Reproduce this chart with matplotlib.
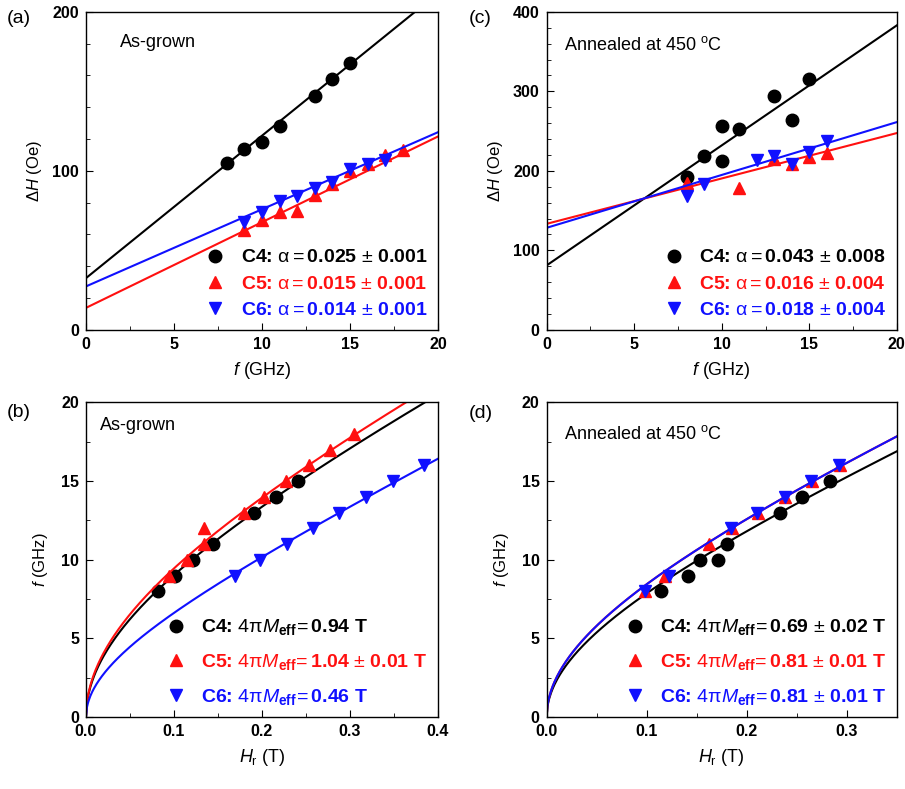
import numpy as np
import matplotlib
matplotlib.use("Agg")
import matplotlib.pyplot as plt
from matplotlib.ticker import MultipleLocator

plt.rcParams['font.family'] = ['Liberation Sans', 'DejaVu Sans']
plt.rcParams['mathtext.fontset'] = 'custom'
plt.rcParams['mathtext.rm'] = 'Liberation Sans'
plt.rcParams['mathtext.it'] = 'Liberation Sans:italic'
plt.rcParams['mathtext.bf'] = 'Liberation Sans:bold'

# ---- (a) as-grown linewidth vs frequency
a_c4_f = [8, 9, 10, 11, 13, 14, 15]
a_c4_dh = [105, 114, 118, 128, 147, 158, 168]
a_c5_f = [9, 10, 11, 12, 13, 14, 15, 16, 17, 18]
a_c5_dh = [63, 69, 74, 75, 85, 92, 100, 104, 110, 113]
a_c6_f = [9, 10, 11, 12, 13, 14, 15, 16, 17]
a_c6_dh = [68, 74, 81, 84, 89, 93, 101, 104, 107]
a_fit = {'C4': (32.5, 8.96), 'C5': (13.8, 5.39), 'C6': (27.3, 4.85)}  # intercept, slope
a_alpha = ['0.025', '0.015', '0.014']
a_err = ['0.001', '0.001', '0.001']

# ---- (c) annealed linewidth vs frequency
c_c4_f = [8, 9, 10, 10, 11, 13, 14, 15]
c_c4_dh = [192, 219, 257, 212, 253, 294, 264, 315]
c_c5_f = [8, 11, 13, 14, 15, 16]
c_c5_dh = [185, 178, 215, 208, 218, 222]
c_c6_f = [8, 9, 12, 13, 14, 15, 16]
c_c6_dh = [168, 183, 213, 219, 209, 224, 237]
c_fit = {'C4': (81, 15.1), 'C5': (133.3, 5.71), 'C6': (128.3, 6.65)}
c_alpha = ['0.043', '0.016', '0.018']
c_err = ['0.008', '0.004', '0.004']

# ---- (b) as-grown f vs Hr
b_c4_h = [0.082, 0.101, 0.122, 0.144, 0.191, 0.216, 0.241]
b_c4_f = [8, 9, 10, 11, 13, 14, 15]
b_c5_h = [0.094, 0.115, 0.134, 0.134, 0.179, 0.202, 0.227, 0.253, 0.277, 0.305]
b_c5_f = [9, 10, 11, 12, 13, 14, 15, 16, 17, 18]
b_c6_h = [0.169, 0.198, 0.228, 0.258, 0.287, 0.318, 0.349, 0.384]
b_c6_f = [9, 10, 11, 12, 13, 14, 15, 16]
b_meff = [0.94, 1.04, 0.46]
b_meff_txt = ['0.94 T', '1.04 $\\pm$ 0.01 T', '0.46 T']

# ---- (d) annealed f vs Hr
d_c4_h = [0.114, 0.141, 0.153, 0.171, 0.180, 0.233, 0.255, 0.283]
d_c4_f = [8, 9, 10, 10, 11, 13, 14, 15]
d_c5_h = [0.098, 0.118, 0.162, 0.185, 0.211, 0.238, 0.265, 0.293]
d_c5_f = [8, 9, 11, 12, 13, 14, 15, 16]
d_c6_h = [0.098, 0.122, 0.184, 0.210, 0.238, 0.264, 0.292]
d_c6_f = [8, 9, 12, 13, 14, 15, 16]
d_meff = [0.69, 0.81, 0.81]
d_meff_txt = ['0.69 $\\pm$ 0.02 T', '0.81 $\\pm$ 0.01 T', '0.81 $\\pm$ 0.01 T']

gamma = 28.0  # GHz/T
names = ['C4', 'C5', 'C6']
colors = ['black', '#ff1010', '#1010ff']
markers = ['o', '^', 'v']

fig = plt.figure(figsize=(9.05, 7.89), dpi=100)
ax_a = fig.add_axes([0.095, 0.582, 0.389, 0.403])
ax_c = fig.add_axes([0.604, 0.582, 0.387, 0.403])
ax_b = fig.add_axes([0.095, 0.091, 0.389, 0.399])
ax_d = fig.add_axes([0.604, 0.091, 0.387, 0.399])


def style(ax):
    ax.tick_params(which='both', direction='in', top=False, right=False)
    ax.tick_params(which='major', length=5, labelsize=11.5, pad=5)
    ax.tick_params(which='minor', length=3)
    for lab in ax.get_xticklabels() + ax.get_yticklabels():
        lab.set_fontweight('bold')
    for s in ax.spines.values():
        s.set_linewidth(1.0)


def alpha_label(n, a, e):
    return '%s: $\\mathrm{\\alpha =}$%s $\\pm$ %s' % (n, a, e)


def meff_label(n, t):
    return '%s: $4\\mathrm{\\pi}\\mathit{M}_{\\mathbf{eff}}\\!=$%s' % (n, t)


# (a)
fx = np.linspace(0, 20, 50)
for i, (xs, ys) in enumerate([(a_c4_f, a_c4_dh), (a_c5_f, a_c5_dh), (a_c6_f, a_c6_dh)]):
    b0, m = a_fit[names[i]]
    ax_a.plot(fx, b0 + m * fx, color=colors[i], lw=1.5)
    ax_a.plot(xs, ys, linestyle='none', marker=markers[i], color=colors[i], ms=9,
              label=alpha_label(names[i], a_alpha[i], a_err[i]))
ax_a.set_xlim(0, 20)
ax_a.set_ylim(0, 200)
ax_a.xaxis.set_major_locator(MultipleLocator(5))
ax_a.xaxis.set_minor_locator(MultipleLocator(2.5))
ax_a.yaxis.set_major_locator(MultipleLocator(100))
ax_a.yaxis.set_minor_locator(MultipleLocator(20))
ax_a.set_xlabel(r'$f$ (GHz)', fontsize=13, labelpad=6)
ax_a.set_ylabel(r'$\Delta H$ (Oe)', fontsize=12, labelpad=6)
ax_a.text(0.097, 0.902, 'As-grown', transform=ax_a.transAxes, fontsize=13, va='center')

# (c)
for i, (xs, ys) in enumerate([(c_c4_f, c_c4_dh), (c_c5_f, c_c5_dh), (c_c6_f, c_c6_dh)]):
    b0, m = c_fit[names[i]]
    ax_c.plot(fx, b0 + m * fx, color=colors[i], lw=1.5)
    ax_c.plot(xs, ys, linestyle='none', marker=markers[i], color=colors[i], ms=9,
              label=alpha_label(names[i], c_alpha[i], c_err[i]))
ax_c.set_xlim(0, 20)
ax_c.set_ylim(0, 400)
ax_c.xaxis.set_major_locator(MultipleLocator(5))
ax_c.xaxis.set_minor_locator(MultipleLocator(2.5))
ax_c.yaxis.set_major_locator(MultipleLocator(100))
ax_c.yaxis.set_minor_locator(MultipleLocator(20))
ax_c.set_xlabel(r'$f$ (GHz)', fontsize=13, labelpad=6)
ax_c.set_ylabel(r'$\Delta H$ (Oe)', fontsize=12, labelpad=6)
ax_c.text(0.05, 0.896, r'Annealed at 450 $^{\mathrm{o}}$C', transform=ax_c.transAxes,
          fontsize=13, va='center')

# (b)
hb = np.linspace(0, 0.4, 400)
for i, (xs, ys) in enumerate([(b_c4_h, b_c4_f), (b_c5_h, b_c5_f), (b_c6_h, b_c6_f)]):
    ax_b.plot(hb, gamma * np.sqrt(hb * (hb + b_meff[i])), color=colors[i], lw=1.5)
    ax_b.plot(xs, ys, linestyle='none', marker=markers[i], color=colors[i], ms=9,
              label=meff_label(names[i], b_meff_txt[i]))
ax_b.set_xlim(0, 0.4)
ax_b.set_ylim(0, 20)
ax_b.xaxis.set_major_locator(MultipleLocator(0.1))
ax_b.xaxis.set_minor_locator(MultipleLocator(0.05))
ax_b.yaxis.set_major_locator(MultipleLocator(5))
ax_b.yaxis.set_minor_locator(MultipleLocator(2.5))
ax_b.set_xlabel(r'$H_{\mathrm{r}}$ (T)', fontsize=13, labelpad=6)
ax_b.set_ylabel(r'$f$ (GHz)', fontsize=12, labelpad=8)
ax_b.text(0.04, 0.927, 'As-grown', transform=ax_b.transAxes, fontsize=13, va='center')

# (d)
hd = np.linspace(0, 0.35, 400)
for i, (xs, ys) in enumerate([(d_c4_h, d_c4_f), (d_c5_h, d_c5_f), (d_c6_h, d_c6_f)]):
    ax_d.plot(hd, gamma * np.sqrt(hd * (hd + d_meff[i])), color=colors[i], lw=1.5)
    ax_d.plot(xs, ys, linestyle='none', marker=markers[i], color=colors[i], ms=9,
              label=meff_label(names[i], d_meff_txt[i]))
ax_d.set_xlim(0, 0.35)
ax_d.set_ylim(0, 20)
ax_d.xaxis.set_major_locator(MultipleLocator(0.1))
ax_d.xaxis.set_minor_locator(MultipleLocator(0.05))
ax_d.yaxis.set_major_locator(MultipleLocator(5))
ax_d.yaxis.set_minor_locator(MultipleLocator(2.5))
ax_d.set_xlabel(r'$H_{\mathrm{r}}$ (T)', fontsize=13, labelpad=6)
ax_d.set_ylabel(r'$f$ (GHz)', fontsize=12, labelpad=8)
ax_d.text(0.05, 0.90, r'Annealed at 450 $^{\mathrm{o}}$C', transform=ax_d.transAxes,
          fontsize=13, va='center')

for ax, sp in ((ax_a, 0.45), (ax_c, 0.45), (ax_b, 0.75), (ax_d, 0.75)):
    style(ax)
    ax.legend(loc='lower right', frameon=False, prop={'size': 14, 'weight': 'bold'},
              handlelength=1.0, handletextpad=0.8, labelspacing=sp, borderaxespad=0.15,
              labelcolor='markerfacecolor')

fig.text(0.021, 0.977, '(a)', fontsize=14, ha='center', va='center')
fig.text(0.531, 0.977, '(c)', fontsize=14, ha='center', va='center')
fig.text(0.021, 0.477, '(b)', fontsize=14, ha='center', va='center')
fig.text(0.531, 0.476, '(d)', fontsize=14, ha='center', va='center')

fig.savefig('out.png', dpi=100)
